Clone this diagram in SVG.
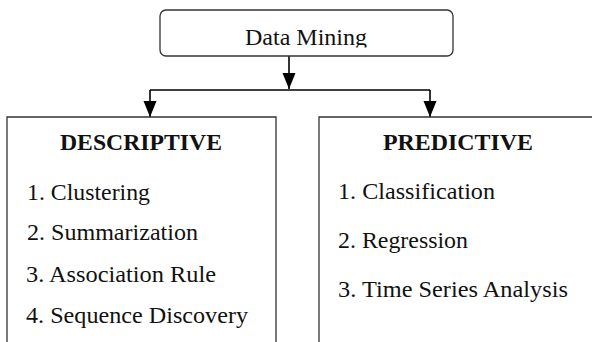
<svg xmlns="http://www.w3.org/2000/svg" width="592" height="342" viewBox="0 0 592 342">
  <style>
    .box { fill: none; stroke: #333; stroke-width: 1.3; }
    .conn { fill: none; stroke: #000; stroke-width: 1.6; }
    .t { font-size: 23px; fill: #111; }
    .h { font-weight: bold; }
  </style>
  <defs>
    <marker id="arrow" markerUnits="userSpaceOnUse" markerWidth="16" markerHeight="14" refX="16" refY="6.5" orient="auto">
      <path d="M0,0 L16,6.5 L0,13 Z" fill="#000"/>
    </marker>
    <clipPath id="dmclip"><rect x="160" y="10" width="293" height="37.5"/></clipPath>
  </defs>
  <rect width="592" height="342" fill="#fff"/>

  <g id="connectors">
    <line class="conn" x1="289" y1="56" x2="289" y2="89" marker-end="url(#arrow)"/>
    <line class="conn" x1="150" y1="90" x2="430" y2="90"/>
    <line class="conn" x1="150" y1="90" x2="150" y2="117" marker-end="url(#arrow)"/>
    <line class="conn" x1="430" y1="90" x2="430" y2="117" marker-end="url(#arrow)"/>
  </g>

  <g id="data-mining" font-family="Liberation Serif, Times New Roman, serif">
    <rect class="box" x="160" y="10" width="293" height="46" rx="6" ry="6"/>
    <text class="t" x="245" y="45" textLength="122" lengthAdjust="spacingAndGlyphs" clip-path="url(#dmclip)">Data Mining</text>
  </g>

  <g id="descriptive" font-family="Liberation Serif, Times New Roman, serif">
    <path class="box" d="M7,342 V117 H276 V342"/>
    <text class="t h" x="60" y="150" textLength="162" lengthAdjust="spacingAndGlyphs">DESCRIPTIVE</text>
    <text class="t" x="27" y="200" textLength="123" lengthAdjust="spacingAndGlyphs">1. Clustering</text>
    <text class="t" x="27" y="240" textLength="171" lengthAdjust="spacingAndGlyphs">2. Summarization</text>
    <text class="t" x="26" y="282" textLength="190" lengthAdjust="spacingAndGlyphs">3. Association Rule</text>
    <text class="t" x="26" y="323" textLength="222" lengthAdjust="spacingAndGlyphs">4. Sequence Discovery</text>
  </g>

  <g id="predictive" font-family="Liberation Serif, Times New Roman, serif">
    <path class="box" d="M319,342 V117 H592"/>
    <text class="t h" x="383" y="150" textLength="150" lengthAdjust="spacingAndGlyphs">PREDICTIVE</text>
    <text class="t" x="338" y="199" textLength="157" lengthAdjust="spacingAndGlyphs">1. Classification</text>
    <text class="t" x="338" y="248" textLength="130" lengthAdjust="spacingAndGlyphs">2. Regression</text>
    <text class="t" x="338" y="297" textLength="230" lengthAdjust="spacingAndGlyphs">3. Time Series Analysis</text>
  </g>
</svg>
